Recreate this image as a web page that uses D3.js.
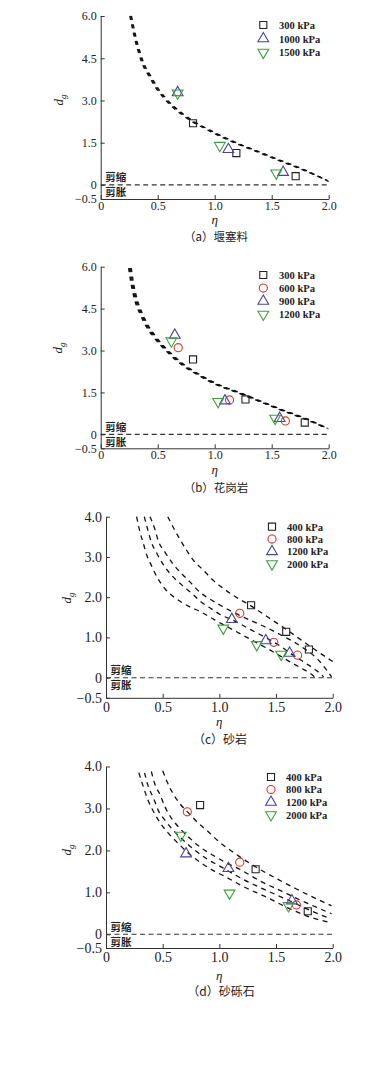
<!DOCTYPE html>
<html>
<head>
<meta charset="utf-8">
<script src="https://cdn.jsdelivr.net/npm/d3@7"></script>
<style>
body { margin: 0; background: #fff; }
text { font-family: "Liberation Serif", "DejaVu Serif", serif; fill: #222; }
.cjk { font-family: "Noto Sans CJK SC", sans-serif; }
</style>
</head>
<body>
<div id="chart"></div>
<script>
var width = 388,
    height = 1065

// tick values and labels
var etaTicks = [0, 0.5, 1.0, 1.5, 2.0]
var etaTickLabels = ["0", "0.5", "1.0", "1.5", "2.0"]
var dTicksAB = [-0.5, 0, 1.5, 3.0, 4.5, 6.0]
var dTickLabelsAB = ["\u22120.5", "0", "1.5", "3.0", "4.5", "6.0"]
var dTicksCD = [-0.5, 0, 1.0, 2.0, 3.0, 4.0]
var dTickLabelsCD = ["\u22120.5", "0", "1.0", "2.0", "3.0", "4.0"]

// (a) 堰塞料
var pressA = ["300 kPa", "1000 kPa", "1500 kPa"]
var a300 = [[0.81, 2.19], [1.19, 1.13], [1.71, 0.31]]
var a1000 = [[0.675, 3.28], [1.12, 1.26], [1.60, 0.45]]
var a1500 = [[0.675, 3.26], [1.045, 1.40], [1.54, 0.42]]
var curveA300 = [[0.255, 6.00], [0.28, 5.52], [0.30, 5.15], [0.33, 4.72], [0.36, 4.34], [0.42, 3.88], [0.48, 3.47], [0.55, 3.10], [0.62, 2.80], [0.71, 2.50], [0.80, 2.25], [0.90, 2.03], [1.02, 1.78], [1.20, 1.45], [1.35, 1.21], [1.54, 0.90], [1.75, 0.57], [1.98, 0.17]]
var curveA1000 = [[0.262, 6.00], [0.287, 5.52], [0.308, 5.15], [0.338, 4.72], [0.369, 4.34], [0.43, 3.88], [0.49, 3.47], [0.56, 3.10], [0.632, 2.80], [0.722, 2.50], [0.812, 2.25], [0.912, 2.03], [1.033, 1.78], [1.213, 1.45], [1.363, 1.21], [1.553, 0.90], [1.763, 0.57], [1.99, 0.15]]
var curveA1500 = [[0.27, 6.00], [0.295, 5.52], [0.316, 5.15], [0.346, 4.72], [0.377, 4.34], [0.438, 3.88], [0.498, 3.47], [0.568, 3.10], [0.64, 2.80], [0.73, 2.50], [0.82, 2.25], [0.92, 2.03], [1.04, 1.78], [1.22, 1.45], [1.37, 1.21], [1.56, 0.90], [1.77, 0.57], [2.00, 0.12]]

// (b) 花岗岩
var pressB = ["300 kPa", "600 kPa", "900 kPa", "1200 kPa"]
var b300 = [[0.81, 2.68], [1.27, 1.25], [1.79, 0.42]]
var b600 = [[0.68, 3.10], [1.13, 1.23], [1.62, 0.48]]
var b900 = [[0.65, 3.55], [1.09, 1.20], [1.57, 0.57]]
var b1200 = [[0.62, 3.34], [1.03, 1.17], [1.53, 0.57]]
var curveB300 = [[0.245, 5.95], [0.265, 5.42], [0.30, 4.78], [0.345, 4.30], [0.40, 3.85], [0.46, 3.50], [0.535, 3.14], [0.61, 2.84], [0.71, 2.49], [0.80, 2.25], [0.90, 2.01], [1.00, 1.80], [1.22, 1.46], [1.40, 1.16], [1.57, 0.88], [1.78, 0.56], [1.98, 0.22]]
var curveB600 = [[0.252, 5.95], [0.272, 5.42], [0.308, 4.78], [0.353, 4.30], [0.408, 3.85], [0.468, 3.50], [0.543, 3.14], [0.618, 2.84], [0.718, 2.49], [0.808, 2.25], [0.908, 2.01], [1.008, 1.80], [1.228, 1.46], [1.408, 1.16], [1.578, 0.88], [1.788, 0.56], [1.99, 0.21]]
var curveB900 = [[0.26, 5.95], [0.28, 5.42], [0.316, 4.78], [0.361, 4.30], [0.416, 3.85], [0.476, 3.50], [0.551, 3.14], [0.626, 2.84], [0.726, 2.49], [0.816, 2.25], [0.916, 2.01], [1.016, 1.80], [1.236, 1.46], [1.416, 1.16], [1.586, 0.88], [1.796, 0.56], [1.995, 0.20]]
var curveB1200 = [[0.268, 5.95], [0.288, 5.42], [0.324, 4.78], [0.369, 4.30], [0.424, 3.85], [0.484, 3.50], [0.559, 3.14], [0.634, 2.84], [0.734, 2.49], [0.824, 2.25], [0.924, 2.01], [1.024, 1.80], [1.244, 1.46], [1.424, 1.16], [1.594, 0.88], [1.804, 0.56], [2.00, 0.19]]

// (c) 砂岩
var pressC = ["400 kPa", "800 kPa", "1200 kPa", "2000 kPa"]
var c400 = [[1.28, 1.80], [1.59, 1.14], [1.79, 0.70]]
var c800 = [[1.18, 1.60], [1.48, 0.88], [1.69, 0.56]]
var c1200 = [[1.11, 1.45], [1.41, 0.92], [1.62, 0.61]]
var c2000 = [[1.035, 1.23], [1.33, 0.82], [1.545, 0.58]]
var curveC400 = [[0.545, 4.00], [0.60, 3.70], [0.65, 3.45], [0.71, 3.17], [0.77, 2.92], [0.86, 2.67], [0.93, 2.46], [1.02, 2.25], [1.12, 2.05], [1.27, 1.80], [1.42, 1.52], [1.59, 1.20], [1.79, 0.80], [2.00, 0.40]]
var curveC800 = [[0.388, 4.00], [0.43, 3.70], [0.46, 3.41], [0.52, 3.12], [0.59, 2.83], [0.67, 2.58], [0.74, 2.38], [0.83, 2.12], [0.93, 1.93], [1.02, 1.78], [1.12, 1.63], [1.27, 1.43], [1.42, 1.24], [1.55, 1.05], [1.68, 0.85], [1.78, 0.66], [1.86, 0.48], [1.93, 0.25], [1.99, 0.02]]
var curveC1200 = [[0.338, 4.00], [0.37, 3.66], [0.40, 3.37], [0.45, 3.08], [0.51, 2.79], [0.58, 2.54], [0.67, 2.30], [0.76, 2.09], [0.84, 1.88], [0.93, 1.71], [1.02, 1.55], [1.12, 1.43], [1.27, 1.20], [1.42, 0.98], [1.55, 0.76], [1.65, 0.56], [1.75, 0.38], [1.85, 0.19], [1.92, 0.02]]
var curveC2000 = [[0.27, 4.00], [0.30, 3.62], [0.33, 3.33], [0.36, 3.04], [0.40, 2.79], [0.45, 2.50], [0.52, 2.21], [0.62, 1.96], [0.74, 1.76], [0.84, 1.63], [0.95, 1.45], [1.12, 1.19], [1.27, 0.96], [1.42, 0.73], [1.62, 0.40], [1.72, 0.24], [1.80, 0.11], [1.84, 0.02]]

// (d) 砂砾石
var pressD = ["400 kPa", "800 kPa", "1200 kPa", "2000 kPa"]
var d400 = [[0.83, 3.08], [1.32, 1.55], [1.78, 0.55]]
var d800 = [[0.717, 2.92], [1.18, 1.72], [1.68, 0.70]]
var d1200 = [[0.706, 1.92], [1.08, 1.57], [1.64, 0.80]]
var d2000 = [[0.66, 2.36], [1.09, 0.98], [1.61, 0.68]]
var curveD1 = [[0.50, 3.90], [0.54, 3.63], [0.59, 3.36], [0.65, 3.12], [0.74, 2.86], [0.81, 2.66], [0.90, 2.45], [1.00, 2.20], [1.12, 1.96], [1.30, 1.64], [1.51, 1.32], [1.68, 1.08], [1.83, 0.88], [1.99, 0.68]]
var curveD2 = [[0.40, 3.88], [0.43, 3.59], [0.48, 3.31], [0.52, 3.04], [0.58, 2.76], [0.65, 2.53], [0.74, 2.29], [0.84, 2.06], [0.96, 1.86], [1.05, 1.72], [1.18, 1.55], [1.36, 1.27], [1.54, 1.04], [1.71, 0.82], [1.86, 0.64], [1.99, 0.49]]
var curveD3 = [[0.34, 3.85], [0.37, 3.55], [0.42, 3.24], [0.46, 2.96], [0.52, 2.72], [0.59, 2.49], [0.68, 2.25], [0.785, 2.00], [0.90, 1.78], [1.02, 1.60], [1.21, 1.31], [1.42, 1.04], [1.62, 0.80], [1.80, 0.57], [1.98, 0.37]]
var curveD4 = [[0.29, 3.85], [0.33, 3.51], [0.37, 3.20], [0.42, 2.92], [0.48, 2.65], [0.55, 2.41], [0.64, 2.16], [0.74, 1.90], [0.84, 1.70], [0.96, 1.50], [1.02, 1.42], [1.21, 1.14], [1.42, 0.88], [1.62, 0.61], [1.80, 0.41], [1.96, 0.29]]

var colors = { square: "#222", circle: "#d9382f", up: "#45459a", down: "#3f9e3f" }
var shapes = ["square", "circle", "up", "down"]

var svg = d3.select("#chart").append("svg")
    .attr("width", width)
    .attr("height", height)

svg.append("rect").attr("width", width).attr("height", height).attr("fill", "#fff")

var panels = [
    { cap: "（a）堰塞料", xr: [100.7, 328.7], yd: [-0.5, 6], yr: [199, 16],
      ticks: dTicksAB, tlabels: dTickLabelsAB, fs: 12, capFs: 11.5,
      names: pressA, pts: [a300, a1000, a1500], kinds: ["square", "up", "down"],
      curves: [curveA300, curveA1000, curveA1500], dash: "4,4.5",
      leg: [263.3, 25, 13.7, 279], ylab: [63, 100], etaY: 220, capY: 241, capX: 216 },
    { cap: "（b）花岗岩", xr: [100.7, 328.7], yd: [-0.5, 6], yr: [448.3, 266.7],
      ticks: dTicksAB, tlabels: dTickLabelsAB, fs: 12, capFs: 11.5,
      names: pressB, pts: [b300, b600, b900, b1200], kinds: ["square", "circle", "up", "down"],
      curves: [curveB300, curveB600, curveB900, curveB1200], dash: "4,4.5",
      leg: [263.3, 275, 13.1, 279], ylab: [62, 348], etaY: 470, capY: 492, capX: 216 },
    { cap: "（c）砂岩", xr: [106, 332.7], yd: [-0.5, 4], yr: [697.8, 516.7],
      ticks: dTicksCD, tlabels: dTickLabelsCD, fs: 14, capFs: 12,
      names: pressC, pts: [c400, c800, c1200, c2000], kinds: ["square", "circle", "up", "down"],
      curves: [curveC400, curveC800, curveC1200, curveC2000], dash: "5,4.5",
      leg: [272, 526.7, 12.4, 287], ylab: [71, 598], etaY: 722, capY: 744, capX: 220 },
    { cap: "（d）砂砾石", xr: [106, 332.7], yd: [-0.5, 0, 4], yr: [948, 934.3, 766.5],
      ticks: dTicksCD, tlabels: dTickLabelsCD, fs: 14, capFs: 12,
      names: pressD, pts: [d400, d800, d1200, d2000], kinds: ["square", "circle", "up", "down"],
      curves: [curveD1, curveD2, curveD3, curveD4], dash: "5,4.5",
      leg: [271, 777, 12.6, 286], ylab: [71, 850], etaY: 976, capY: 996, capX: 221 }
]

function symbolPath(kind) {
    if (kind == "square") return d3.symbol(d3.symbolSquare, 50)()
    if (kind == "circle") return d3.symbol(d3.symbolCircle, 52)()
    return d3.symbol(d3.symbolTriangle, 50)()
}

function drawMarker(g, kind, cx, cy) {
    var m = g.append("path")
        .attr("d", symbolPath(kind))
        .attr("fill", "none")
        .attr("stroke", colors[kind])
        .attr("stroke-width", 1.1)
    if (kind == "down") m.attr("transform", "translate(" + cx + "," + cy + ") rotate(180)")
    else m.attr("transform", "translate(" + cx + "," + cy + ")")
}

panels.forEach(function (p) {
    var g = svg.append("g")

    var x = d3.scaleLinear().domain([0, 2]).range(p.xr)
    var y = d3.scaleLinear().domain(p.yd).range(p.yr)
    var yBottom = p.yr[0]

    // axes
    var xAxis = d3.axisBottom(x)
        .tickValues(etaTicks)
        .tickFormat(function (d, i) { return etaTickLabels[i] })
        .tickSizeInner(-4).tickSizeOuter(0).tickPadding(p.fs == 12 ? 2 : 4)
    var yAxis = d3.axisLeft(y)
        .tickValues(p.ticks)
        .tickFormat(function (d, i) { return p.tlabels[i] })
        .tickSizeInner(-4).tickSizeOuter(0).tickPadding(4)

    var gx = g.append("g").attr("transform", "translate(0," + yBottom + ")").call(xAxis)
    var gy = g.append("g").attr("transform", "translate(" + p.xr[0] + ",0)").call(yAxis)
    ;[gx, gy].forEach(function (a) {
        a.selectAll("path,line").attr("stroke", "#333").attr("stroke-width", 1)
        a.selectAll("text").attr("font-size", p.fs).attr("font-family", "Liberation Serif").attr("fill", "#222")
    })

    // zero line
    g.append("line")
        .attr("x1", x(0)).attr("x2", x(2))
        .attr("y1", y(0)).attr("y2", y(0))
        .attr("stroke", "#333").attr("stroke-width", 1.1)
        .attr("stroke-dasharray", "5,3.5")

    g.append("text").attr("class", "cjk")
        .attr("x", x(0) + 4.5).attr("y", y(0) - 3.5)
        .attr("font-size", 10.5).attr("font-weight", "bold").text("剪缩")
    g.append("text").attr("class", "cjk")
        .attr("x", x(0) + 4.5).attr("y", y(0) + 11.5)
        .attr("font-size", 10.5).attr("font-weight", "bold").text("剪胀")

    // fitted curves
    var line = d3.line()
        .x(function (d) { return x(d[0]) })
        .y(function (d) { return y(d[1]) })
        .curve(d3.curveMonotoneX)

    p.curves.forEach(function (c) {
        g.append("path")
            .attr("d", line(c))
            .attr("fill", "none")
            .attr("stroke", "#111")
            .attr("stroke-width", 1.3)
            .attr("stroke-dasharray", p.dash)
    })

    // test points
    p.pts.forEach(function (s, i) {
        s.forEach(function (d) {
            drawMarker(g, p.kinds[i], x(d[0]), y(d[1]))
        })
    })

    // legend
    p.names.forEach(function (n, i) {
        var ly = p.leg[1] + i * p.leg[2]
        drawMarker(g, p.kinds[i], p.leg[0], ly)
        g.append("text")
            .attr("x", p.leg[3]).attr("y", ly + 3.8)
            .attr("font-size", 10.5).attr("font-weight", "bold")
            .text(n)
    })

    // axis titles
    var yl = g.append("text")
        .attr("transform", "translate(" + p.ylab[0] + "," + p.ylab[1] + ") rotate(-90)")
        .attr("text-anchor", "middle")
        .attr("font-size", 13)
    yl.append("tspan").attr("font-style", "italic").text("d")
    yl.append("tspan").attr("font-size", 9).attr("font-style", "italic").attr("dy", 3).text("g")

    g.append("text")
        .attr("x", (p.xr[0] + p.xr[1]) / 2).attr("y", p.etaY + 4)
        .attr("text-anchor", "middle")
        .attr("font-size", 13).attr("font-style", "italic")
        .text("η")

    g.append("text").attr("class", "cjk")
        .attr("x", p.capX).attr("y", p.capY)
        .attr("text-anchor", "middle")
        .attr("font-size", p.capFs)
        .text(p.cap)
})
</script>
</body>
</html>
